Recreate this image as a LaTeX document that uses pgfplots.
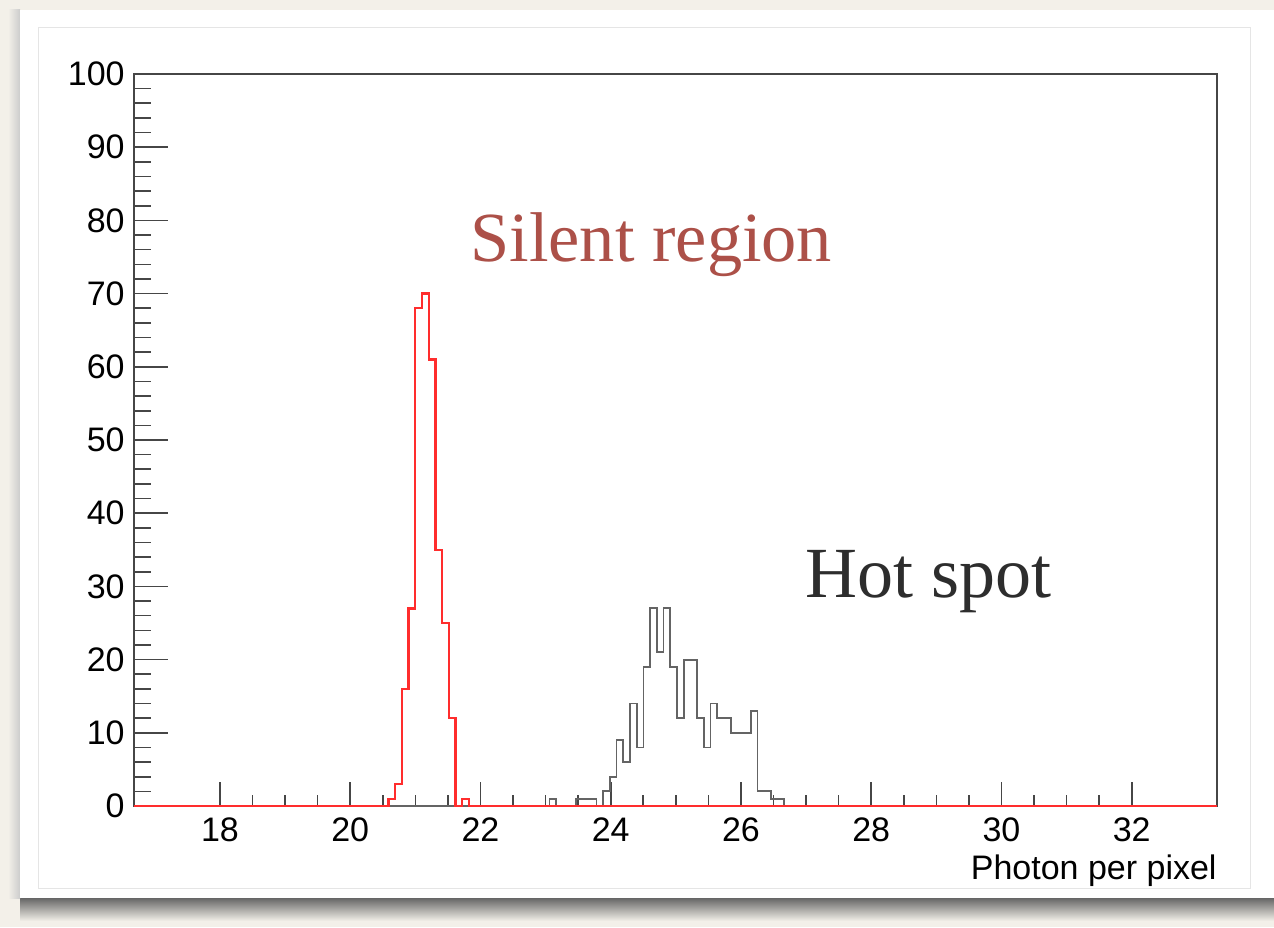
\documentclass[border=0pt]{standalone}
\usepackage{pgfplots}
\pgfplotsset{compat=1.18}
\usepackage{fontspec}
\setmainfont{Liberation Sans}
\newfontfamily\serifa{Liberation Serif}
\definecolor{bgc}{RGB}{243,240,233}
\definecolor{hred}{RGB}{255,45,45}
\definecolor{silent}{RGB}{172,80,72}
\definecolor{hot}{RGB}{45,45,45}
\definecolor{frame}{RGB}{70,70,70}
\definecolor{hblack}{RGB}{100,100,100}
\begin{document}
\begin{tikzpicture}
\path[use as bounding box] (0pt,0pt) rectangle (637pt,463.5pt);
\fill[bgc] (0pt,0pt) rectangle (637pt,463.5pt);
\shade[top color=black!60, bottom color=bgc] (10pt,14.5pt) rectangle (637pt,3pt);
\shade[left color=bgc, right color=black!20] (4pt,14.5pt) rectangle (10pt,458.5pt);
\fill[white] (10pt,14.5pt) rectangle (637pt,458.5pt);
\draw[black!10, line width=0.5pt] (19pt,19.5pt) rectangle (625pt,449.5pt);
% y ticks and labels first (so that the red line covers the 0 tick)
\begin{axis}[
 at={(67pt,60.5pt)}, anchor=south west, scale only axis,
 width=541.5pt, height=366pt,
 xmin=16.68, xmax=33.31, ymin=0, ymax=100,
 xtick=\empty, ytick={0,10,...,100}, minor y tick num=4,
 ytick pos=left, tick align=inside,
 major tick length=17pt, minor tick length=8.5pt,
 axis line style={draw=none},
 tick style={draw=frame, line width=0.8pt},
 yticklabel style={font=\fontsize{17}{20}\selectfont, anchor=east, inner sep=0pt, xshift=-4.5pt},
 /pgf/number format/assume math mode=true,
]
\addplot[draw=none] coordinates {(20,0)};
\end{axis}
\begin{axis}[
 at={(67pt,60.5pt)}, anchor=south west, scale only axis,
 width=541.5pt, height=366pt,
 xmin=16.68, xmax=33.31, ymin=0, ymax=100,
 xtick={18,20,...,32}, minor x tick num=3,
 ytick=\empty,
 xtick pos=bottom, tick align=inside,
 major tick length=12pt, minor tick length=5.5pt,
 axis line style={draw=frame, line width=1pt},
 tick style={draw=frame, line width=0.8pt},
 xticklabel style={font=\fontsize{17}{20}\selectfont, anchor=north, inner sep=0pt, yshift=-5.5pt},
 /pgf/number format/assume math mode=true,
 xlabel={Photon per pixel},
 xlabel style={font=\fontsize{17}{20}\selectfont, at={(axis description cs:1,0)}, anchor=base east, inner sep=0pt, yshift=-36.5pt},
 clip=false,
]
\addplot[const plot mark left, draw=hblack, line width=0.9pt] coordinates {
(16.68,0) (23.060,1) (23.163,0) (23.472,1) (23.575,1) (23.678,1) (23.781,0)
(23.884,2) (23.987,4) (24.090,9) (24.193,6) (24.296,14) (24.399,8) (24.502,19)
(24.605,27) (24.708,21) (24.811,27) (24.914,19) (25.017,12) (25.120,20) (25.223,20)
(25.326,12) (25.429,8) (25.532,14) (25.635,12) (25.738,12) (25.841,10) (25.944,10)
(26.047,10) (26.150,13) (26.253,2) (26.356,2) (26.459,1) (26.562,1) (26.665,0) (33.31,0)
};
\addplot[const plot mark left, draw=hred, line width=1.15pt] coordinates {
(16.68,0) (20.588,1) (20.691,3) (20.794,16) (20.897,27) (21.000,68) (21.103,70)
(21.206,61) (21.309,35) (21.412,25) (21.515,12) (21.618,0) (21.721,1) (21.824,0) (33.31,0)
};
\end{axis}
\node[anchor=base west, inner sep=0pt, text=silent, font=\serifa\fontsize{35.2}{40}\selectfont] at (235pt,332.5pt) {Silent region};
\node[anchor=base west, inner sep=0pt, text=hot, font=\serifa\fontsize{36}{40}\selectfont] at (402.5pt,164.5pt) {Hot spot};
\end{tikzpicture}
\end{document}
